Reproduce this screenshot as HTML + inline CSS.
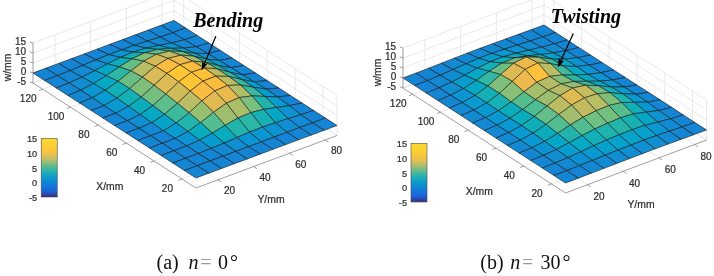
<!DOCTYPE html>
<html><head><meta charset="utf-8"><title>fig</title>
<style>
html,body{margin:0;padding:0;background:#fff;}
body{width:714px;height:276px;overflow:hidden;position:relative;}
svg{position:absolute;left:0;top:0;display:block;filter:blur(0.45px)}
svg text{font-family:"Liberation Sans",sans-serif;font-size:10px;fill:#2e2e2e;stroke:#2e2e2e;stroke-width:0.22px;}
svg text.lab{font-size:10.4px;}
svg text.cap{font-family:"Liberation Serif",serif;font-size:20px;fill:#111;stroke:none;}
svg text.ann{font-family:"Liberation Serif",serif;font-size:20px;font-weight:bold;font-style:italic;fill:#000;stroke:none;}
</style></head><body>
<svg width="714" height="276" viewBox="0 0 714 276">
<defs><linearGradient id="pg" x1="0" y1="0" x2="0" y2="1"><stop offset="0.000" stop-color="#fdd830"/><stop offset="0.100" stop-color="#fcd232"/><stop offset="0.200" stop-color="#fac63a"/><stop offset="0.280" stop-color="#e8c04e"/><stop offset="0.360" stop-color="#b9be69"/><stop offset="0.440" stop-color="#78bc82"/><stop offset="0.520" stop-color="#3cb6a0"/><stop offset="0.600" stop-color="#19aabc"/><stop offset="0.680" stop-color="#0c96d0"/><stop offset="0.760" stop-color="#1282d5"/><stop offset="0.850" stop-color="#1470dc"/><stop offset="0.910" stop-color="#1c5fd2"/><stop offset="0.950" stop-color="#2d46a5"/><stop offset="1.000" stop-color="#323087"/></linearGradient></defs>
<rect width="714" height="276" fill="#fff"/>
<g id="pa" stroke-linejoin="round"><g class="m" stroke="#151515" stroke-width="0.6"><path d="M33.00 83.00L174.00 30.50L337.00 135.50M33.00 73.00L174.00 20.50L337.00 125.50M33.00 63.00L174.00 10.50L337.00 115.50M33.00 53.00L174.00 0.50L337.00 105.50M33.00 43.00L174.00 -9.50L337.00 95.50M54.95 74.83L54.95 34.83M54.95 74.83L217.95 179.83M90.65 61.53L90.65 21.53M90.65 61.53L253.65 166.53M126.35 48.24L126.35 8.24M126.35 48.24L289.35 153.24M162.04 34.95L162.04 -5.05M162.04 34.95L325.04 139.95M322.94 126.44L322.94 86.44M322.94 126.44L181.94 178.94M295.10 108.51L295.10 68.51M295.10 108.51L154.10 161.01M267.26 90.58L267.26 50.58M267.26 90.58L126.26 143.08M239.42 72.64L239.42 32.64M239.42 72.64L98.42 125.14M211.58 54.71L211.58 14.71M211.58 54.71L70.58 107.21M183.74 36.78L183.74 -3.22M183.74 36.78L42.74 89.28M337.00 135.50L337.00 95.50M174.00 30.50L174.00 -9.50M33.00 83.00L174.00 30.50L337.00 135.50" fill="none" stroke="#e2e2e2" stroke-width="0.75"/>
<polygon points="172.82,32.65 161.18,25.27 174.00,20.50 185.64,28.00" fill="#1484d4"/>
<polygon points="160.01,36.99 148.36,30.05 161.18,25.27 172.82,32.65" fill="#1484d4"/>
<polygon points="184.47,39.79 172.82,32.65 185.64,28.00 197.29,35.50" fill="#1484d4"/>
<polygon points="147.19,41.10 135.55,34.82 148.36,30.05 160.01,36.99" fill="#1484d4"/>
<polygon points="171.65,42.96 160.01,36.99 172.82,32.65 184.47,39.79" fill="#1484d4"/>
<polygon points="134.37,45.28 122.73,39.59 135.55,34.82 147.19,41.10" fill="#1484d4"/>
<polygon points="196.11,46.68 184.47,39.79 197.29,35.50 208.93,43.00" fill="#1484d4"/>
<polygon points="158.83,45.41 147.19,41.10 160.01,36.99 171.65,42.96" fill="#1487d3"/>
<polygon points="121.55,49.77 109.91,44.36 122.73,39.59 134.37,45.28" fill="#1484d4"/>
<polygon points="183.29,48.12 171.65,42.96 184.47,39.79 196.11,46.68" fill="#1487d3"/>
<polygon points="146.01,48.19 134.37,45.28 147.19,41.10 158.83,45.41" fill="#118cd2"/>
<polygon points="207.75,53.52 196.11,46.68 208.93,43.00 220.57,50.50" fill="#1484d4"/>
<polygon points="108.73,54.67 97.09,49.14 109.91,44.36 121.55,49.77" fill="#1484d4"/>
<polygon points="170.47,48.32 158.83,45.41 171.65,42.96 183.29,48.12" fill="#0c93d2"/>
<polygon points="133.19,52.13 121.55,49.77 134.37,45.28 146.01,48.19" fill="#0e91d2"/>
<polygon points="194.94,53.25 183.29,48.12 196.11,46.68 207.75,53.52" fill="#128bd2"/>
<polygon points="95.92,59.89 84.27,53.91 97.09,49.14 108.73,54.67" fill="#1484d4"/>
<polygon points="157.66,49.35 146.01,48.19 158.83,45.41 170.47,48.32" fill="#06a3cb"/>
<polygon points="219.40,60.50 207.75,53.52 220.57,50.50 232.21,58.00" fill="#1484d4"/>
<polygon points="120.38,57.45 108.73,54.67 121.55,49.77 133.19,52.13" fill="#0c93d2"/>
<polygon points="182.12,51.47 170.47,48.32 183.29,48.12 194.94,53.25" fill="#06a3cb"/>
<polygon points="83.10,65.25 71.45,58.68 84.27,53.91 95.92,59.89" fill="#1484d4"/>
<polygon points="144.84,52.73 133.19,52.13 146.01,48.19 157.66,49.35" fill="#09acbe"/>
<polygon points="206.58,59.06 194.94,53.25 207.75,53.52 219.40,60.50" fill="#0e91d2"/>
<polygon points="107.56,63.85 95.92,59.89 108.73,54.67 120.38,57.45" fill="#0d92d2"/>
<polygon points="169.30,51.12 157.66,49.35 170.47,48.32 182.12,51.47" fill="#24b5aa"/>
<polygon points="231.04,67.65 219.40,60.50 232.21,58.00 243.86,65.50" fill="#1484d4"/>
<polygon points="70.28,70.52 58.64,63.45 71.45,58.68 83.10,65.25" fill="#1484d4"/>
<polygon points="132.02,58.81 120.38,57.45 133.19,52.13 144.84,52.73" fill="#10afb8"/>
<polygon points="193.76,56.14 182.12,51.47 194.94,53.25 206.58,59.06" fill="#0cadbc"/>
<polygon points="94.74,70.64 83.10,65.25 95.92,59.89 107.56,63.85" fill="#108fd2"/>
<polygon points="156.48,54.26 144.84,52.73 157.66,49.35 169.30,51.12" fill="#63be87"/>
<polygon points="218.22,65.52 206.58,59.06 219.40,60.50 231.04,67.65" fill="#0b95d2"/>
<polygon points="57.46,75.61 45.82,68.23 58.64,63.45 70.28,70.52" fill="#1484d4"/>
<polygon points="119.20,66.89 107.56,63.85 120.38,57.45 132.02,58.81" fill="#0badbc"/>
<polygon points="180.94,55.18 169.30,51.12 182.12,51.47 193.76,56.14" fill="#6ebf82"/>
<polygon points="242.68,74.88 231.04,67.65 243.86,65.50 255.50,73.00" fill="#1484d4"/>
<polygon points="81.92,77.07 70.28,70.52 83.10,65.25 94.74,70.64" fill="#138ad3"/>
<polygon points="143.66,61.20 132.02,58.81 144.84,52.73 156.48,54.26" fill="#7cbf7b"/>
<polygon points="205.40,62.14 193.76,56.14 206.58,59.06 218.22,65.52" fill="#1eb3ae"/>
<polygon points="44.64,80.50 33.00,73.00 45.82,68.23 57.46,75.61" fill="#1484d4"/>
<polygon points="106.38,75.61 94.74,70.64 107.56,63.85 119.20,66.89" fill="#06a6c7"/>
<polygon points="168.12,58.43 156.48,54.26 169.30,51.12 180.94,55.18" fill="#bebc61"/>
<polygon points="229.86,72.32 218.22,65.52 231.04,67.65 242.68,74.88" fill="#0998d1"/>
<polygon points="69.10,82.89 57.46,75.61 70.28,70.52 81.92,77.07" fill="#1487d3"/>
<polygon points="130.84,70.87 119.20,66.89 132.02,58.81 143.66,61.20" fill="#64be86"/>
<polygon points="192.58,61.13 180.94,55.18 193.76,56.14 205.40,62.14" fill="#9ebe6e"/>
<polygon points="254.32,81.86 242.68,74.88 255.50,73.00 267.14,80.50" fill="#1484d4"/>
<polygon points="93.56,83.49 81.92,77.07 94.74,70.64 106.38,75.61" fill="#089ad0"/>
<polygon points="155.31,66.24 143.66,61.20 156.48,54.26 168.12,58.43" fill="#d4bb58"/>
<polygon points="217.05,68.79 205.40,62.14 218.22,65.52 229.86,72.32" fill="#2cb7a5"/>
<polygon points="56.29,88.00 44.64,80.50 57.46,75.61 69.10,82.89" fill="#1484d4"/>
<polygon points="118.03,81.26 106.38,75.61 119.20,66.89 130.84,70.87" fill="#2cb7a5"/>
<polygon points="179.77,64.68 168.12,58.43 180.94,55.18 192.58,61.13" fill="#ebb94d"/>
<polygon points="241.51,79.44 229.86,72.32 242.68,74.88 254.32,81.86" fill="#0899d1"/>
<polygon points="80.75,90.20 69.10,82.89 81.92,77.07 93.56,83.49" fill="#118ed2"/>
<polygon points="142.49,77.14 130.84,70.87 143.66,61.20 155.31,66.24" fill="#b7bd64"/>
<polygon points="204.23,67.96 192.58,61.13 205.40,62.14 217.05,68.79" fill="#b4bd65"/>
<polygon points="265.97,89.07 254.32,81.86 267.14,80.50 278.79,88.00" fill="#1484d4"/>
<polygon points="105.21,90.29 93.56,83.49 106.38,75.61 118.03,81.26" fill="#06a8c4"/>
<polygon points="166.95,73.38 155.31,66.24 168.12,58.43 179.77,64.68" fill="#fcbd40"/>
<polygon points="228.69,76.40 217.05,68.79 229.86,72.32 241.51,79.44" fill="#36b99f"/>
<polygon points="67.93,95.50 56.29,88.00 69.10,82.89 80.75,90.20" fill="#1486d4"/>
<polygon points="129.67,88.59 118.03,81.26 130.84,70.87 142.49,77.14" fill="#68be84"/>
<polygon points="191.41,72.31 179.77,64.68 192.58,61.13 204.23,67.96" fill="#fcbd3f"/>
<polygon points="253.15,87.16 241.51,79.44 254.32,81.86 265.97,89.07" fill="#079dcf"/>
<polygon points="92.39,97.66 80.75,90.20 93.56,83.49 105.21,90.29" fill="#0a96d1"/>
<polygon points="154.13,85.24 142.49,77.14 155.31,66.24 166.95,73.38" fill="#d8ba56"/>
<polygon points="215.87,76.14 204.23,67.96 217.05,68.79 228.69,76.40" fill="#bfbc60"/>
<polygon points="277.61,96.94 265.97,89.07 278.79,88.00 290.43,95.50" fill="#1484d4"/>
<polygon points="116.85,98.04 105.21,90.29 118.03,81.26 129.67,88.59" fill="#12afb7"/>
<polygon points="178.59,81.81 166.95,73.38 179.77,64.68 191.41,72.31" fill="#fec634"/>
<polygon points="240.33,84.94 228.69,76.40 241.51,79.44 253.15,87.16" fill="#3cba9b"/>
<polygon points="79.57,103.00 67.93,95.50 80.75,90.20 92.39,97.66" fill="#1487d3"/>
<polygon points="141.31,96.99 129.67,88.59 142.49,77.14 154.13,85.24" fill="#7fbf7a"/>
<polygon points="203.05,81.07 191.41,72.31 204.23,67.96 215.87,76.14" fill="#fec239"/>
<polygon points="264.79,96.42 253.15,87.16 265.97,89.07 277.61,96.94" fill="#069fce"/>
<polygon points="104.03,105.57 92.39,97.66 105.21,90.29 116.85,98.04" fill="#079bd0"/>
<polygon points="165.77,94.00 154.13,85.24 166.95,73.38 178.59,81.81" fill="#dcba54"/>
<polygon points="227.51,85.45 215.87,76.14 228.69,76.40 240.33,84.94" fill="#bebc61"/>
<polygon points="289.25,105.68 277.61,96.94 290.43,95.50 302.07,103.00" fill="#1484d4"/>
<polygon points="128.49,106.26 116.85,98.04 129.67,88.59 141.31,96.99" fill="#14b0b5"/>
<polygon points="190.23,91.03 178.59,81.81 191.41,72.31 203.05,81.07" fill="#fec535"/>
<polygon points="251.97,95.89 240.33,84.94 253.15,87.16 264.79,96.42" fill="#39b99d"/>
<polygon points="91.21,110.50 79.57,103.00 92.39,97.66 104.03,105.57" fill="#1487d3"/>
<polygon points="152.95,105.51 141.31,96.99 154.13,85.24 165.77,94.00" fill="#74bf7f"/>
<polygon points="214.69,90.86 203.05,81.07 215.87,76.14 227.51,85.45" fill="#fcbd3f"/>
<polygon points="276.44,107.48 264.79,96.42 277.61,96.94 289.25,105.68" fill="#079dcf"/>
<polygon points="115.68,113.23 104.03,105.57 116.85,98.04 128.49,106.26" fill="#089ad1"/>
<polygon points="177.42,103.26 165.77,94.00 178.59,81.81 190.23,91.03" fill="#d0bb59"/>
<polygon points="239.16,97.60 227.51,85.45 240.33,84.94 251.97,95.89" fill="#afbe67"/>
<polygon points="300.90,114.66 289.25,105.68 302.07,103.00 313.71,110.50" fill="#1484d4"/>
<polygon points="140.14,114.47 128.49,106.26 141.31,96.99 152.95,105.51" fill="#0badbc"/>
<polygon points="201.88,100.87 190.23,91.03 203.05,81.07 214.69,90.86" fill="#fbbc41"/>
<polygon points="263.62,109.39 251.97,95.89 264.79,96.42 276.44,107.48" fill="#20b4ad"/>
<polygon points="102.86,118.00 91.21,110.50 104.03,105.57 115.68,113.23" fill="#1485d4"/>
<polygon points="164.60,114.26 152.95,105.51 165.77,94.00 177.42,103.26" fill="#5cbe8a"/>
<polygon points="226.34,103.19 214.69,90.86 227.51,85.45 239.16,97.60" fill="#e8b94f"/>
<polygon points="288.08,118.66 276.44,107.48 289.25,105.68 300.90,114.66" fill="#0c93d2"/>
<polygon points="127.32,120.73 115.68,113.23 128.49,106.26 140.14,114.47" fill="#0c94d2"/>
<polygon points="189.06,112.68 177.42,103.26 190.23,91.03 201.88,100.87" fill="#babd63"/>
<polygon points="250.80,112.62 239.16,97.60 251.97,95.89 263.62,109.39" fill="#79bf7d"/>
<polygon points="312.54,122.77 300.90,114.66 313.71,110.50 325.36,118.00" fill="#1484d4"/>
<polygon points="151.78,122.73 140.14,114.47 152.95,105.51 164.60,114.26" fill="#06a8c3"/>
<polygon points="213.52,112.27 201.88,100.87 214.69,90.86 226.34,103.19" fill="#e0ba53"/>
<polygon points="275.26,122.71 263.62,109.39 276.44,107.48 288.08,118.66" fill="#06a6c7"/>
<polygon points="114.50,125.50 102.86,118.00 115.68,113.23 127.32,120.73" fill="#1484d4"/>
<polygon points="176.24,122.94 164.60,114.26 177.42,103.26 189.06,112.68" fill="#3dba9b"/>
<polygon points="237.98,118.03 226.34,103.19 239.16,97.60 250.80,112.62" fill="#aabe69"/>
<polygon points="299.72,127.55 288.08,118.66 300.90,114.66 312.54,122.77" fill="#1388d3"/>
<polygon points="138.96,128.23 127.32,120.73 140.14,114.47 151.78,122.73" fill="#108fd2"/>
<polygon points="200.70,122.56 189.06,112.68 201.88,100.87 213.52,112.27" fill="#97bf70"/>
<polygon points="262.44,127.12 250.80,112.62 263.62,109.39 275.26,122.71" fill="#17b1b3"/>
<polygon points="324.18,130.27 312.54,122.77 325.36,118.00 337.00,125.50" fill="#1484d4"/>
<polygon points="163.42,130.83 151.78,122.73 164.60,114.26 176.24,122.94" fill="#06a3cb"/>
<polygon points="225.16,125.30 213.52,112.27 226.34,103.19 237.98,118.03" fill="#9ebe6e"/>
<polygon points="286.90,132.32 275.26,122.71 288.08,118.66 299.72,127.55" fill="#118ed2"/>
<polygon points="126.14,133.00 114.50,125.50 127.32,120.73 138.96,128.23" fill="#1484d4"/>
<polygon points="187.88,131.46 176.24,122.94 189.06,112.68 200.70,122.56" fill="#21b4ac"/>
<polygon points="249.62,132.10 237.98,118.03 250.80,112.62 262.44,127.12" fill="#2bb6a6"/>
<polygon points="311.36,135.05 299.72,127.55 312.54,122.77 324.18,130.27" fill="#1484d4"/>
<polygon points="150.60,135.73 138.96,128.23 151.78,122.73 163.42,130.83" fill="#1389d3"/>
<polygon points="212.34,133.15 200.70,122.56 213.52,112.27 225.16,125.30" fill="#52bd8f"/>
<polygon points="274.08,137.09 262.44,127.12 275.26,122.71 286.90,132.32" fill="#0c94d2"/>
<polygon points="175.06,138.45 163.42,130.83 176.24,122.94 187.88,131.46" fill="#079cd0"/>
<polygon points="236.81,137.56 225.16,125.30 237.98,118.03 249.62,132.10" fill="#22b4ab"/>
<polygon points="298.55,139.82 286.90,132.32 299.72,127.55 311.36,135.05" fill="#1484d4"/>
<polygon points="137.79,140.50 126.14,133.00 138.96,128.23 150.60,135.73" fill="#1484d4"/>
<polygon points="199.53,140.12 187.88,131.46 200.70,122.56 212.34,133.15" fill="#09abbf"/>
<polygon points="261.27,141.86 249.62,132.10 262.44,127.12 274.08,137.09" fill="#0a96d1"/>
<polygon points="162.25,143.23 150.60,135.73 163.42,130.83 175.06,138.45" fill="#1484d4"/>
<polygon points="223.99,143.13 212.34,133.15 225.16,125.30 236.81,137.56" fill="#09abbf"/>
<polygon points="285.73,144.59 274.08,137.09 286.90,132.32 298.55,139.82" fill="#1484d4"/>
<polygon points="186.71,145.95 175.06,138.45 187.88,131.46 199.53,140.12" fill="#0c94d2"/>
<polygon points="248.45,146.64 236.81,137.56 249.62,132.10 261.27,141.86" fill="#0b95d2"/>
<polygon points="149.43,148.00 137.79,140.50 150.60,135.73 162.25,143.23" fill="#1484d4"/>
<polygon points="211.17,148.43 199.53,140.12 212.34,133.15 223.99,143.13" fill="#079cd0"/>
<polygon points="272.91,149.36 261.27,141.86 274.08,137.09 285.73,144.59" fill="#1484d4"/>
<polygon points="173.89,150.73 162.25,143.23 175.06,138.45 186.71,145.95" fill="#1484d4"/>
<polygon points="235.63,151.41 223.99,143.13 236.81,137.56 248.45,146.64" fill="#0f8fd2"/>
<polygon points="198.35,153.45 186.71,145.95 199.53,140.12 211.17,148.43" fill="#128bd2"/>
<polygon points="260.09,154.14 248.45,146.64 261.27,141.86 272.91,149.36" fill="#1484d4"/>
<polygon points="161.07,155.50 149.43,148.00 162.25,143.23 173.89,150.73" fill="#1484d4"/>
<polygon points="222.81,156.18 211.17,148.43 223.99,143.13 235.63,151.41" fill="#1389d3"/>
<polygon points="185.53,158.23 173.89,150.73 186.71,145.95 198.35,153.45" fill="#1484d4"/>
<polygon points="247.27,158.91 235.63,151.41 248.45,146.64 260.09,154.14" fill="#1484d4"/>
<polygon points="209.99,160.95 198.35,153.45 211.17,148.43 222.81,156.18" fill="#1485d4"/>
<polygon points="172.71,163.00 161.07,155.50 173.89,150.73 185.53,158.23" fill="#1484d4"/>
<polygon points="234.45,163.68 222.81,156.18 235.63,151.41 247.27,158.91" fill="#1484d4"/>
<polygon points="197.18,165.73 185.53,158.23 198.35,153.45 209.99,160.95" fill="#1484d4"/>
<polygon points="221.64,168.45 209.99,160.95 222.81,156.18 234.45,163.68" fill="#1484d4"/>
<polygon points="184.36,170.50 172.71,163.00 185.53,158.23 197.18,165.73" fill="#1484d4"/>
<polygon points="208.82,173.23 197.18,165.73 209.99,160.95 221.64,168.45" fill="#1484d4"/>
<polygon points="196.00,178.00 184.36,170.50 197.18,165.73 208.82,173.23" fill="#1484d4"/>
<path d="M33.00 43.00L33.00 83.00M33.00 83.00L196.00 188.00L337.00 135.50M181.94 178.94L178.19 180.34M154.10 161.01L150.35 162.41M126.26 143.08L122.51 144.47M98.42 125.14L94.67 126.54M70.58 107.21L66.83 108.61M42.74 89.28L39.00 90.67M217.95 179.83L221.32 181.99M253.65 166.53L257.01 168.70M289.35 153.24L292.71 155.41M325.04 139.95L328.40 142.12M33.00 83.00L29.80 81.80M33.00 73.00L29.80 71.80M33.00 63.00L29.80 61.80M33.00 53.00L29.80 51.80M33.00 43.00L29.80 41.80" fill="none" stroke="#6a6a6a" stroke-width="0.65"/>
<text stroke="none" x="167.4" y="187.9" text-anchor="middle" dy="3.6">20</text>
<text stroke="none" x="139.6" y="170.0" text-anchor="middle" dy="3.6">40</text>
<text stroke="none" x="111.8" y="152.1" text-anchor="middle" dy="3.6">60</text>
<text stroke="none" x="83.9" y="134.1" text-anchor="middle" dy="3.6">80</text>
<text stroke="none" x="56.1" y="116.2" text-anchor="middle" dy="3.6">100</text>
<text stroke="none" x="28.2" y="98.3" text-anchor="middle" dy="3.6">120</text>
<text stroke="none" x="229.5" y="190.5" text-anchor="middle" dy="3.6">20</text>
<text stroke="none" x="265.1" y="177.2" text-anchor="middle" dy="3.6">40</text>
<text stroke="none" x="300.8" y="163.9" text-anchor="middle" dy="3.6">60</text>
<text stroke="none" x="336.5" y="150.7" text-anchor="middle" dy="3.6">80</text>
<text stroke="none" x="26.2" y="81.5" text-anchor="end" dy="3.6">-5</text>
<text stroke="none" x="26.2" y="71.5" text-anchor="end" dy="3.6">0</text>
<text stroke="none" x="26.2" y="61.5" text-anchor="end" dy="3.6">5</text>
<text stroke="none" x="26.2" y="51.5" text-anchor="end" dy="3.6">10</text>
<text stroke="none" x="26.2" y="41.5" text-anchor="end" dy="3.6">15</text></g></g>
<g id="pb" stroke-linejoin="round"><g class="m" stroke="#151515" stroke-width="0.6"><path d="M403.00 88.00L544.00 35.00L706.50 140.00M403.00 78.00L544.00 25.00L706.50 130.00M403.00 68.00L544.00 15.00L706.50 120.00M403.00 58.00L544.00 5.00L706.50 110.00M403.00 48.00L544.00 -5.00L706.50 100.00M424.95 79.75L424.95 39.75M424.95 79.75L587.45 184.75M460.65 66.33L460.65 26.33M460.65 66.33L623.15 171.33M496.35 52.91L496.35 12.91M496.35 52.91L658.85 157.91M532.04 39.49L532.04 -0.51M532.04 39.49L694.54 144.49M692.48 130.94L692.48 90.94M692.48 130.94L551.48 183.94M664.73 113.01L664.73 73.01M664.73 113.01L523.73 166.01M636.98 95.08L636.98 55.08M636.98 95.08L495.98 148.08M609.22 77.14L609.22 37.14M609.22 77.14L468.22 130.14M581.47 59.21L581.47 19.21M581.47 59.21L440.47 112.21M553.71 41.28L553.71 1.28M553.71 41.28L412.71 94.28M706.50 140.00L706.50 100.00M544.00 35.00L544.00 -5.00M403.00 88.00L544.00 35.00L706.50 140.00" fill="none" stroke="#e2e2e2" stroke-width="0.75"/>
<polygon points="542.79,36.87 531.18,29.71 544.00,25.00 555.61,32.50" fill="#1484d4"/>
<polygon points="529.97,41.03 518.36,34.37 531.18,29.71 542.79,36.87" fill="#1484d4"/>
<polygon points="554.40,43.79 542.79,36.87 555.61,32.50 567.21,40.00" fill="#1484d4"/>
<polygon points="517.15,45.09 505.55,39.00 518.36,34.37 529.97,41.03" fill="#1485d4"/>
<polygon points="541.58,47.12 529.97,41.03 542.79,36.87 554.40,43.79" fill="#1487d3"/>
<polygon points="504.33,49.15 492.73,43.64 505.55,39.00 517.15,45.09" fill="#1487d3"/>
<polygon points="566.00,50.60 554.40,43.79 567.21,40.00 578.82,47.50" fill="#1484d4"/>
<polygon points="528.76,50.19 517.15,45.09 529.97,41.03 541.58,47.12" fill="#128bd2"/>
<polygon points="491.52,53.45 479.91,48.33 492.73,43.64 504.33,49.15" fill="#1388d3"/>
<polygon points="553.19,52.90 541.58,47.12 554.40,43.79 566.00,50.60" fill="#128bd2"/>
<polygon points="515.94,53.23 504.33,49.15 517.15,45.09 528.76,50.19" fill="#0e92d2"/>
<polygon points="577.61,57.61 566.00,50.60 578.82,47.50 590.43,55.00" fill="#1484d4"/>
<polygon points="478.70,58.29 467.09,53.15 479.91,48.33 491.52,53.45" fill="#1389d3"/>
<polygon points="540.37,54.56 528.76,50.19 541.58,47.12 553.19,52.90" fill="#0a97d1"/>
<polygon points="503.12,56.81 491.52,53.45 504.33,49.15 515.94,53.23" fill="#0998d1"/>
<polygon points="564.79,59.07 553.19,52.90 566.00,50.60 577.61,57.61" fill="#0f90d2"/>
<polygon points="465.88,63.76 454.27,58.13 467.09,53.15 478.70,58.29" fill="#1389d3"/>
<polygon points="527.55,55.75 515.94,53.23 528.76,50.19 540.37,54.56" fill="#06a2cc"/>
<polygon points="589.22,65.06 577.61,57.61 590.43,55.00 602.04,62.50" fill="#1484d4"/>
<polygon points="490.31,61.72 478.70,58.29 491.52,53.45 503.12,56.81" fill="#079bd0"/>
<polygon points="551.97,59.10 540.37,54.56 553.19,52.90 564.79,59.07" fill="#06a2cc"/>
<polygon points="453.06,69.58 441.45,63.19 454.27,58.13 465.88,63.76" fill="#1388d3"/>
<polygon points="514.73,57.92 503.12,56.81 515.94,53.23 527.55,55.75" fill="#08aac1"/>
<polygon points="576.40,66.41 564.79,59.07 577.61,57.61 589.22,65.06" fill="#0c94d2"/>
<polygon points="477.49,68.09 465.88,63.76 478.70,58.29 490.31,61.72" fill="#079bd0"/>
<polygon points="539.16,57.29 527.55,55.75 540.37,54.56 551.97,59.10" fill="#12afb7"/>
<polygon points="600.82,72.73 589.22,65.06 602.04,62.50 613.64,69.99" fill="#1484d4"/>
<polygon points="440.24,75.26 428.64,68.22 441.45,63.19 453.06,69.58" fill="#1486d4"/>
<polygon points="501.91,63.17 490.31,61.72 503.12,56.81 514.73,57.92" fill="#10afb8"/>
<polygon points="563.58,66.14 551.97,59.10 564.79,59.07 576.40,66.41" fill="#06a8c4"/>
<polygon points="464.67,75.21 453.06,69.58 465.88,63.76 477.49,68.09" fill="#0a96d1"/>
<polygon points="526.34,56.95 514.73,57.92 527.55,55.75 539.16,57.29" fill="#43bb97"/>
<polygon points="588.01,74.38 576.40,66.41 589.22,65.06 600.82,72.73" fill="#0b95d2"/>
<polygon points="427.43,80.55 415.82,73.15 428.64,68.22 440.24,75.26" fill="#1485d4"/>
<polygon points="489.09,71.32 477.49,68.09 490.31,61.72 501.91,63.17" fill="#10afb9"/>
<polygon points="550.76,63.70 539.16,57.29 551.97,59.10 563.58,66.14" fill="#38b99e"/>
<polygon points="612.43,80.03 600.82,72.73 613.64,69.99 625.25,77.45" fill="#1484d4"/>
<polygon points="451.85,82.00 440.24,75.26 453.06,69.58 464.67,75.21" fill="#108ed2"/>
<polygon points="513.52,63.19 501.91,63.17 514.73,57.92 526.34,56.95" fill="#74bf7f"/>
<polygon points="575.19,75.03 563.58,66.14 576.40,66.41 588.01,74.38" fill="#07a9c3"/>
<polygon points="414.61,85.50 403.00,78.00 415.82,73.15 427.43,80.55" fill="#1484d4"/>
<polygon points="476.28,80.38 464.67,75.21 477.49,68.09 489.09,71.32" fill="#06a8c3"/>
<polygon points="537.94,62.82 526.34,56.95 539.16,57.29 550.76,63.70" fill="#aabe69"/>
<polygon points="599.61,81.19 588.01,74.38 600.82,72.73 612.43,80.03" fill="#0c93d2"/>
<polygon points="439.03,87.88 427.43,80.55 440.24,75.26 451.85,82.00" fill="#1388d3"/>
<polygon points="500.70,74.51 489.09,71.32 501.91,63.17 513.52,63.19" fill="#6cbf83"/>
<polygon points="562.37,74.95 550.76,63.70 563.58,66.14 575.19,75.03" fill="#40ba99"/>
<polygon points="624.04,86.98 612.43,80.03 625.25,77.45 636.86,84.89" fill="#1484d4"/>
<polygon points="463.46,88.58 451.85,82.00 464.67,75.21 476.28,80.38" fill="#079dcf"/>
<polygon points="525.13,69.36 513.52,63.19 526.34,56.95 537.94,62.82" fill="#eeb94b"/>
<polygon points="586.80,81.29 575.19,75.03 588.01,74.38 599.61,81.19" fill="#06a7c6"/>
<polygon points="426.21,93.00 414.61,85.50 427.43,80.55 439.03,87.88" fill="#1484d4"/>
<polygon points="487.88,85.98 476.28,80.38 489.09,71.32 500.70,74.51" fill="#31b8a2"/>
<polygon points="549.55,76.37 537.94,62.82 550.76,63.70 562.37,74.95" fill="#b9bd63"/>
<polygon points="611.22,87.02 599.61,81.19 612.43,80.03 624.04,86.98" fill="#0b95d2"/>
<polygon points="450.64,95.18 439.03,87.88 451.85,82.00 463.46,88.58" fill="#118ed2"/>
<polygon points="512.31,81.40 500.70,74.51 513.52,63.19 525.13,69.36" fill="#dcba54"/>
<polygon points="573.98,81.41 562.37,74.95 575.19,75.03 586.80,81.29" fill="#2ab6a6"/>
<polygon points="635.65,94.23 624.04,86.98 636.86,84.89 648.46,92.33" fill="#1484d4"/>
<polygon points="475.06,95.41 463.46,88.58 476.28,80.38 487.88,85.98" fill="#06a8c3"/>
<polygon points="536.73,82.25 525.13,69.36 537.94,62.82 549.55,76.37" fill="#febf3c"/>
<polygon points="598.40,85.77 586.80,81.29 599.61,81.19 611.22,87.02" fill="#07aac1"/>
<polygon points="437.82,100.50 426.21,93.00 439.03,87.88 450.64,95.18" fill="#1486d4"/>
<polygon points="499.49,93.30 487.88,85.98 500.70,74.51 512.31,81.40" fill="#7ebf7b"/>
<polygon points="561.16,83.86 549.55,76.37 562.37,74.95 573.98,81.41" fill="#80bf7a"/>
<polygon points="622.83,93.81 611.22,87.02 624.04,86.98 635.65,94.23" fill="#0899d1"/>
<polygon points="462.25,102.53 450.64,95.18 463.46,88.58 475.06,95.41" fill="#0b95d2"/>
<polygon points="523.92,91.75 512.31,81.40 525.13,69.36 536.73,82.25" fill="#edb94c"/>
<polygon points="585.58,85.22 573.98,81.41 586.80,81.29 598.40,85.77" fill="#3dba9b"/>
<polygon points="647.25,102.11 635.65,94.23 648.46,92.33 660.07,99.82" fill="#1485d4"/>
<polygon points="486.67,102.87 475.06,95.41 487.88,85.98 499.49,93.30" fill="#13b0b6"/>
<polygon points="548.34,90.38 536.73,82.25 549.55,76.37 561.16,83.86" fill="#b4bd65"/>
<polygon points="610.01,92.71 598.40,85.77 611.22,87.02 622.83,93.81" fill="#14b0b5"/>
<polygon points="449.43,108.00 437.82,100.50 450.64,95.18 462.25,102.53" fill="#1487d3"/>
<polygon points="511.10,101.88 499.49,93.30 512.31,81.40 523.92,91.75" fill="#88bf76"/>
<polygon points="572.77,88.04 561.16,83.86 573.98,81.41 585.58,85.22" fill="#91bf73"/>
<polygon points="634.44,102.33 622.83,93.81 635.65,94.23 647.25,102.11" fill="#089bd0"/>
<polygon points="473.85,110.03 462.25,102.53 475.06,95.41 486.67,102.87" fill="#089ad0"/>
<polygon points="535.52,99.68 523.92,91.75 536.73,82.25 548.34,90.38" fill="#a5be6b"/>
<polygon points="597.19,93.71 585.58,85.22 598.40,85.77 610.01,92.71" fill="#74bf7f"/>
<polygon points="658.86,110.45 647.25,102.11 660.07,99.82 671.68,107.36" fill="#1485d4"/>
<polygon points="498.28,110.71 486.67,102.87 499.49,93.30 511.10,101.88" fill="#15b1b4"/>
<polygon points="559.95,95.64 548.34,90.38 561.16,83.86 572.77,88.04" fill="#b4bd65"/>
<polygon points="621.62,102.53 610.01,92.71 622.83,93.81 634.44,102.33" fill="#1cb3b0"/>
<polygon points="461.04,115.50 449.43,108.00 462.25,102.53 473.85,110.03" fill="#1388d3"/>
<polygon points="522.70,109.52 511.10,101.88 523.92,91.75 535.52,99.68" fill="#54bd8e"/>
<polygon points="584.37,97.84 572.77,88.04 585.58,85.22 597.19,93.71" fill="#c6bc5d"/>
<polygon points="646.04,112.10 634.44,102.33 647.25,102.11 658.86,110.45" fill="#0998d1"/>
<polygon points="485.46,117.60 473.85,110.03 486.67,102.87 498.28,110.71" fill="#089ad0"/>
<polygon points="547.13,105.96 535.52,99.68 548.34,90.38 559.95,95.64" fill="#9cbf6f"/>
<polygon points="608.80,105.54 597.19,93.71 610.01,92.71 621.62,102.53" fill="#7ebf7b"/>
<polygon points="670.47,118.85 658.86,110.45 671.68,107.36 683.29,114.93" fill="#1484d4"/>
<polygon points="509.89,118.24 498.28,110.71 511.10,101.88 522.70,109.52" fill="#0badbc"/>
<polygon points="571.56,105.09 559.95,95.64 572.77,88.04 584.37,97.84" fill="#e0ba52"/>
<polygon points="633.22,113.87 621.62,102.53 634.44,102.33 646.04,112.10" fill="#11afb8"/>
<polygon points="472.64,123.00 461.04,115.50 473.85,110.03 485.46,117.60" fill="#1388d3"/>
<polygon points="534.31,116.43 522.70,109.52 535.52,99.68 547.13,105.96" fill="#4cbc92"/>
<polygon points="595.98,110.79 584.37,97.84 597.19,93.71 608.80,105.54" fill="#b9bd63"/>
<polygon points="657.65,122.04 646.04,112.10 658.86,110.45 670.47,118.85" fill="#0e92d2"/>
<polygon points="497.07,125.10 485.46,117.60 498.28,110.71 509.89,118.24" fill="#0998d1"/>
<polygon points="558.74,114.47 547.13,105.96 559.95,95.64 571.56,105.09" fill="#bcbd62"/>
<polygon points="620.41,117.82 608.80,105.54 621.62,102.53 633.22,113.87" fill="#53bd8e"/>
<polygon points="682.07,126.98 670.47,118.85 683.29,114.93 694.89,122.48" fill="#1484d4"/>
<polygon points="521.49,125.52 509.89,118.24 522.70,109.52 534.31,116.43" fill="#0aacbd"/>
<polygon points="583.16,117.18 571.56,105.09 584.37,97.84 595.98,110.79" fill="#c2bc5f"/>
<polygon points="644.83,125.29 633.22,113.87 646.04,112.10 657.65,122.04" fill="#06a6c7"/>
<polygon points="484.25,130.50 472.64,123.00 485.46,117.60 497.07,125.10" fill="#1388d3"/>
<polygon points="545.92,124.36 534.31,116.43 547.13,105.96 558.74,114.47" fill="#63be87"/>
<polygon points="607.59,123.20 595.98,110.79 608.80,105.54 620.41,117.82" fill="#75bf7e"/>
<polygon points="669.26,131.23 657.65,122.04 670.47,118.85 682.07,126.98" fill="#128ad3"/>
<polygon points="508.68,132.55 497.07,125.10 509.89,118.24 521.49,125.52" fill="#0998d1"/>
<polygon points="570.34,124.88 558.74,114.47 571.56,105.09 583.16,117.18" fill="#a0be6d"/>
<polygon points="632.01,129.65 620.41,117.82 633.22,113.87 644.83,125.29" fill="#19b2b2"/>
<polygon points="693.68,134.73 682.07,126.98 694.89,122.48 706.50,129.99" fill="#1484d4"/>
<polygon points="533.10,133.17 521.49,125.52 534.31,116.43 545.92,124.36" fill="#0faeb9"/>
<polygon points="594.77,128.99 583.16,117.18 595.98,110.79 607.59,123.20" fill="#6dbf82"/>
<polygon points="656.44,135.50 644.83,125.29 657.65,122.04 669.26,131.23" fill="#0997d1"/>
<polygon points="495.86,138.00 484.25,130.50 497.07,125.10 508.68,132.55" fill="#1388d3"/>
<polygon points="557.53,133.37 545.92,124.36 558.74,114.47 570.34,124.88" fill="#50bc90"/>
<polygon points="619.19,134.73 607.59,123.20 620.41,117.82 632.01,129.65" fill="#24b5aa"/>
<polygon points="680.86,139.40 669.26,131.23 682.07,126.98 693.68,134.73" fill="#1486d4"/>
<polygon points="520.28,140.08 508.68,132.55 521.49,125.52 533.10,133.17" fill="#0899d1"/>
<polygon points="581.95,135.52 570.34,124.88 583.16,117.18 594.77,128.99" fill="#50bc90"/>
<polygon points="643.62,140.16 632.01,129.65 644.83,125.29 656.44,135.50" fill="#06a1cc"/>
<polygon points="544.71,141.26 533.10,133.17 545.92,124.36 557.53,133.37" fill="#0badbc"/>
<polygon points="606.38,140.03 594.77,128.99 607.59,123.20 619.19,134.73" fill="#1db3af"/>
<polygon points="668.05,144.07 656.44,135.50 669.26,131.23 680.86,139.40" fill="#138ad3"/>
<polygon points="507.46,145.50 495.86,138.00 508.68,132.55 520.28,140.08" fill="#1388d3"/>
<polygon points="569.13,142.67 557.53,133.37 570.34,124.88 581.95,135.52" fill="#22b4ab"/>
<polygon points="630.80,145.07 619.19,134.73 632.01,129.65 643.62,140.16" fill="#06a4ca"/>
<polygon points="531.89,147.71 520.28,140.08 533.10,133.17 544.71,141.26" fill="#0998d1"/>
<polygon points="593.56,145.73 581.95,135.52 594.77,128.99 606.38,140.03" fill="#12afb7"/>
<polygon points="655.23,148.84 643.62,140.16 656.44,135.50 668.05,144.07" fill="#108ed2"/>
<polygon points="556.31,149.48 544.71,141.26 557.53,133.37 569.13,142.67" fill="#06a6c6"/>
<polygon points="617.98,150.05 606.38,140.03 619.19,134.73 630.80,145.07" fill="#06a2cb"/>
<polygon points="519.07,153.00 507.46,145.50 520.28,140.08 531.89,147.71" fill="#1388d3"/>
<polygon points="580.74,151.77 569.13,142.67 581.95,135.52 593.56,145.73" fill="#07a9c3"/>
<polygon points="642.41,153.67 630.80,145.07 643.62,140.16 655.23,148.84" fill="#0f90d2"/>
<polygon points="543.50,155.38 531.89,147.71 544.71,141.26 556.31,149.48" fill="#0c94d2"/>
<polygon points="605.17,155.18 593.56,145.73 606.38,140.03 617.98,150.05" fill="#06a0cd"/>
<polygon points="567.92,157.64 556.31,149.48 569.13,142.67 580.74,151.77" fill="#079dcf"/>
<polygon points="629.59,158.52 617.98,150.05 630.80,145.07 642.41,153.67" fill="#108fd2"/>
<polygon points="530.68,160.50 519.07,153.00 531.89,147.71 543.50,155.38" fill="#1487d3"/>
<polygon points="592.35,160.42 580.74,151.77 593.56,145.73 605.17,155.18" fill="#089ad0"/>
<polygon points="555.10,163.02 543.50,155.38 556.31,149.48 567.92,157.64" fill="#118ed2"/>
<polygon points="616.77,163.43 605.17,155.18 617.98,150.05 629.59,158.52" fill="#118dd2"/>
<polygon points="579.53,165.61 567.92,157.64 580.74,151.77 592.35,160.42" fill="#0e91d2"/>
<polygon points="542.29,168.00 530.68,160.50 543.50,155.38 555.10,163.02" fill="#1486d4"/>
<polygon points="603.95,168.37 592.35,160.42 605.17,155.18 616.77,163.43" fill="#128bd2"/>
<polygon points="566.71,170.63 555.10,163.02 567.92,157.64 579.53,165.61" fill="#1389d3"/>
<polygon points="591.14,173.29 579.53,165.61 592.35,160.42 603.95,168.37" fill="#1388d3"/>
<polygon points="553.89,175.50 542.29,168.00 555.10,163.02 566.71,170.63" fill="#1485d4"/>
<polygon points="578.32,178.17 566.71,170.63 579.53,165.61 591.14,173.29" fill="#1485d4"/>
<polygon points="565.50,183.00 553.89,175.50 566.71,170.63 578.32,178.17" fill="#1484d4"/>
<path d="M403.00 48.00L403.00 88.00M403.00 88.00L565.50 193.00L706.50 140.00M551.48 183.94L547.74 185.35M523.73 166.01L519.99 167.42M495.98 148.08L492.23 149.48M468.22 130.14L464.48 131.55M440.47 112.21L436.72 113.62M412.71 94.28L408.97 95.68M587.45 184.75L590.81 186.92M623.15 171.33L626.51 173.50M658.85 157.91L662.21 160.08M694.54 144.49L697.90 146.67M403.00 88.00L399.80 86.80M403.00 78.00L399.80 76.80M403.00 68.00L399.80 66.80M403.00 58.00L399.80 56.80M403.00 48.00L399.80 46.80" fill="none" stroke="#6a6a6a" stroke-width="0.65"/>
<text stroke="none" x="537.0" y="192.9" text-anchor="middle" dy="3.6">20</text>
<text stroke="none" x="509.2" y="175.0" text-anchor="middle" dy="3.6">40</text>
<text stroke="none" x="481.5" y="157.1" text-anchor="middle" dy="3.6">60</text>
<text stroke="none" x="453.7" y="139.1" text-anchor="middle" dy="3.6">80</text>
<text stroke="none" x="426.0" y="121.2" text-anchor="middle" dy="3.6">100</text>
<text stroke="none" x="398.2" y="103.3" text-anchor="middle" dy="3.6">120</text>
<text stroke="none" x="599.0" y="196.6" text-anchor="middle" dy="3.6">20</text>
<text stroke="none" x="634.6" y="183.2" text-anchor="middle" dy="3.6">40</text>
<text stroke="none" x="670.3" y="169.8" text-anchor="middle" dy="3.6">60</text>
<text stroke="none" x="706.0" y="156.4" text-anchor="middle" dy="3.6">80</text>
<text stroke="none" x="396.2" y="86.5" text-anchor="end" dy="3.6">-5</text>
<text stroke="none" x="396.2" y="76.5" text-anchor="end" dy="3.6">0</text>
<text stroke="none" x="396.2" y="66.5" text-anchor="end" dy="3.6">5</text>
<text stroke="none" x="396.2" y="56.5" text-anchor="end" dy="3.6">10</text>
<text stroke="none" x="396.2" y="46.5" text-anchor="end" dy="3.6">15</text></g></g>
<rect x="41.2" y="138.5" width="16.0" height="58.5" fill="url(#pg)" stroke="#4a4a4a" stroke-width="0.6"/><text stroke="none" x="37.2" y="139.0" text-anchor="end" dy="3.3" style="font-size:9.2px">15</text><text stroke="none" x="37.2" y="153.6" text-anchor="end" dy="3.3" style="font-size:9.2px">10</text><text stroke="none" x="37.2" y="168.2" text-anchor="end" dy="3.3" style="font-size:9.2px">5</text><text stroke="none" x="37.2" y="182.9" text-anchor="end" dy="3.3" style="font-size:9.2px">0</text><text stroke="none" x="37.2" y="197.5" text-anchor="end" dy="3.3" style="font-size:9.2px">-5</text>
<rect x="411.0" y="143.5" width="16.0" height="58.5" fill="url(#pg)" stroke="#4a4a4a" stroke-width="0.6"/><text stroke="none" x="407.0" y="144.0" text-anchor="end" dy="3.3" style="font-size:9.2px">15</text><text stroke="none" x="407.0" y="158.6" text-anchor="end" dy="3.3" style="font-size:9.2px">10</text><text stroke="none" x="407.0" y="173.2" text-anchor="end" dy="3.3" style="font-size:9.2px">5</text><text stroke="none" x="407.0" y="187.9" text-anchor="end" dy="3.3" style="font-size:9.2px">0</text><text stroke="none" x="407.0" y="202.5" text-anchor="end" dy="3.3" style="font-size:9.2px">-5</text>
<text stroke="none" x="109.8" y="186" text-anchor="middle" dy="3.7" class="lab">X/mm</text>
<text stroke="none" x="271" y="199" text-anchor="middle" dy="3.7" class="lab">Y/mm</text>
<text stroke="none" x="479.3" y="191" text-anchor="middle" dy="3.7" class="lab">X/mm</text>
<text stroke="none" x="641" y="204.6" text-anchor="middle" dy="3.7" class="lab">Y/mm</text>
<text stroke="none" transform="translate(7,67.5) rotate(-90)" text-anchor="middle" dy="3.7" class="lab">w/mm</text>
<text stroke="none" transform="translate(377,72.5) rotate(-90)" text-anchor="middle" dy="3.7" class="lab">w/mm</text>
<text stroke="none" class="ann" x="193.2" y="27.1">Bending</text>
<text stroke="none" class="ann" x="550.7" y="23.2">Twisting</text>
<path d="M215.80 36.30L204.28 64.13" stroke="#000" stroke-width="1.25" fill="none"/><path d="M201.60 70.60L202.27 61.14L204.47 63.67L207.81 63.43Z" fill="#000"/>
<path d="M573.30 33.50L560.61 61.23" stroke="#000" stroke-width="1.25" fill="none"/><path d="M557.70 67.60L558.72 58.17L560.82 60.78L564.17 60.66Z" fill="#000"/>
<text stroke="none" class="cap" x="156.5" y="269.4">(a)</text><text stroke="none" class="cap" x="188.5" y="269.4" font-style="italic">n</text><text stroke="none" class="cap" x="200.3" y="269.4" style="fill:#9c9c9c">=</text><text stroke="none" class="cap" x="218" y="269.4">0</text><text stroke="none" class="cap" x="229.9" y="269.4">°</text>
<text stroke="none" class="cap" x="480.3" y="269.4">(b)</text><text stroke="none" class="cap" x="510.2" y="269.4" font-style="italic">n</text><text stroke="none" class="cap" x="522" y="269.4" style="fill:#9c9c9c">=</text><text stroke="none" class="cap" x="540.5" y="269.4">30</text><text stroke="none" class="cap" x="562.4" y="269.4">°</text>
</svg>
</body></html>
